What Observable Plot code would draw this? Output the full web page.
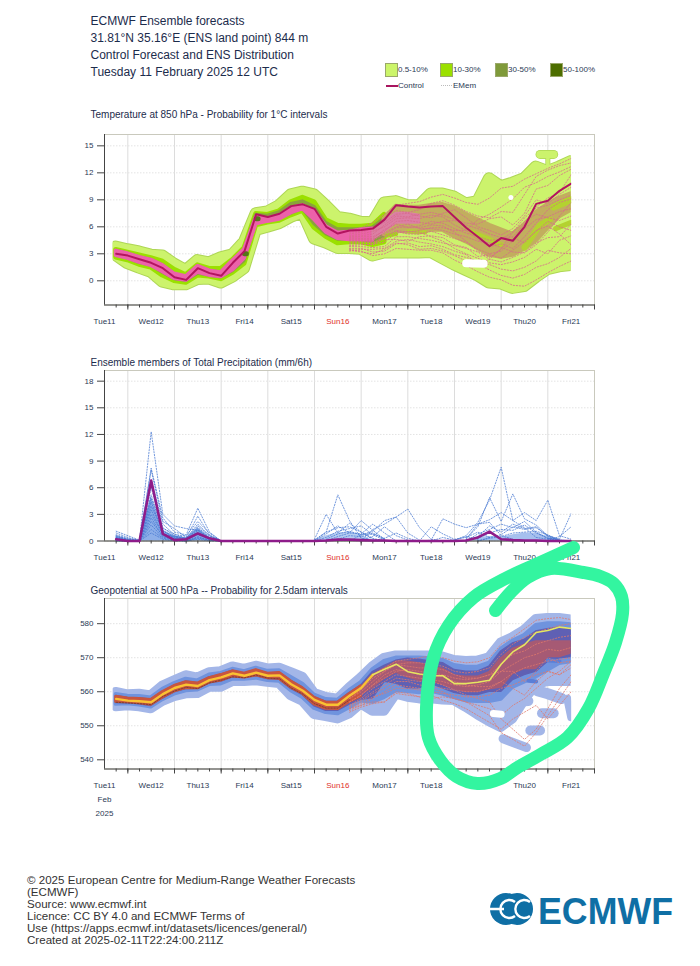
<!DOCTYPE html>
<html><head><meta charset="utf-8">
<script src="https://cdn.jsdelivr.net/npm/d3@7"></script>
<script src="https://cdn.jsdelivr.net/npm/@observablehq/plot@0.6"></script>
<style>
html,body{margin:0;padding:0;background:#fff}
#page{position:relative;width:700px;height:966px;overflow:hidden;font-family:"Liberation Sans",Arial,sans-serif;color:#1c2c4c}
#page>*{position:absolute}
.h{font-size:12px;left:90.5px;white-space:nowrap;line-height:14px}
.pt{font-size:10px;left:90.5px;white-space:nowrap;line-height:12px}
.lg{font-size:8px;white-space:nowrap;line-height:10px;color:#2b3a55}
.sw{width:11px;height:12px;border:1px solid #9aa86a}
.ft{font-size:11.57px;left:27px;white-space:nowrap;line-height:12px;color:#333}
</style></head><body><div id="page"></div>
<script>
const dayLabels=["Tue11","Wed12","Thu13","Fri14","Sat15","Sun16","Mon17","Tue18","Wed19","Thu20","Fri21"];
const titleLines=["ECMWF Ensemble forecasts","31.81°N 35.16°E (ENS land point) 844 m","Control Forecast and ENS Distribution","Tuesday 11 February 2025 12 UTC"];
const panelTitles=["Temperature at 850 hPa - Probability for 1°C intervals","Ensemble members of Total Precipitation (mm/6h)","Geopotential at 500 hPa -- Probability for 2.5dam intervals"];
const legendItems=["0.5-10%","10-30%","30-50%","50-100%"];
const footerLines=["© 2025 European Centre for Medium-Range Weather Forecasts","(ECMWF)","Source: www.ecmwf.int","Licence: CC BY 4.0 and ECMWF Terms of","Use (https://apps.ecmwf.int/datasets/licences/general/)","Created at 2025-02-11T22:24:00.211Z"];

// Temperature at 850 hPa (6-hourly from Tue 18 UTC)
const tControl=[3.0,2.8,2.4,2.0,1.4,0.4,0.1,1.4,0.85,0.55,2.0,3.3,7.4,7.1,7.45,8.3,8.5,8.0,6.0,5.25,5.6,5.65,5.8,6.8,8.4,8.25,8.15,8.25,8.3,7.1,5.9,4.9,3.85,4.75,4.45,6.0,8.55,8.9,10.0,10.8];
const tOuterHi=[4.3,4.0,3.75,3.4,3.3,2.4,1.7,2.8,2.55,3.1,3.45,4.85,8.0,8.2,8.9,10.1,10.4,10.1,8.9,7.6,7.4,7.05,7.0,9.2,9.35,8.9,8.9,10.2,10.2,9.85,9.1,9.35,11.9,11.0,11.4,11.9,13.2,12.7,13.2,13.8];
const tOuterLo=[2.25,1.35,0.85,0.4,-0.7,-1,-1,-0.4,-0.35,-0.8,-0.15,0.8,5.05,5.4,5.8,6.5,7,4.1,3.65,3.05,3.05,2.95,2.2,2.55,2.55,2.55,2.55,2.6,1.9,1.2,0.6,0,-0.8,-0.9,-1.4,-1.2,-0.2,0.7,1.0,1.15];
const tMidHi=[3.7,3.4,3.1,2.8,2.4,1.5,0.9,2.0,1.6,1.6,2.6,3.9,7.7,7.6,8.0,9.0,9.5,9.0,7.0,6.4,6.3,6.3,6.4,7.6];
const tMidLo=[2.3,2.0,1.5,1.2,0.3,-0.3,-0.5,0.3,0.2,-0.1,0.6,1.6,5.9,6.2,6.4,7.0,7.5,5.6,4.6,3.9,4.0,4.0,3.7,4.0];
const tOliveHi=[3.5,3.2,2.8,2.5,1.9,0.9,0.6,1.8,1.3,1.1,2.3,3.7,7.5,7.4,7.8,8.7,9.0,8.4,6.6,5.9,5.9,5.9,6.1,7.1];
const tOliveLo=[2.6,2.3,1.8,1.5,0.7,0,-0.2,0.6,0.4,0.2,0.9,2.0,6.2,6.5,6.7,7.3,7.8,6.1,5.0,4.4,4.4,4.4,4.2,4.8];
const tTanHi=[7.1,8.5,8.4,8.4,8.6,8.7,8.3,7.6,7.0,6.4,5.9,5.4,6.4,7.8,8.7,9.4,9.9];
const tTanLo=[4.9,5.3,5.2,5.1,5.4,5.4,4.7,4.1,3.4,2.6,2.4,2.6,3.3,4.2,5.6,6.9,7.6];
const tPinkHi=[3.3,3.0,2.6,2.3,1.7,0.75,0.45,1.6,1.1,0.9,2.2,3.45,7.0,6.9,7.2,8.05,8.35,7.7,6.0,5.3,5.4,5.65,5.75];
const tPinkLo=[2.8,2.5,2.05,1.7,1.0,0.25,0.05,0.95,0.6,0.45,1.2,2.5,6.3,6.6,6.85,7.55,8,6.8,5.4,4.7,4.55,4.55,4.5];
const tPatchHi=[5.75,6.7,7.6,7.6,7.4];
const tPatchLo=[4.5,5.3,6.3,6.3,6.3];
const tMembers=[
[5.6,5.9,6.5,7.4,8.4,8.6,8.8,9.3,9.6,9.2,8.7,8.5,9.2,10.3,10.5,11.3,11.9,12.5,13.0,13.6],
[5.2,5.4,5.8,7.0,7.8,7.6,7.9,8.6,8.9,8.4,7.7,7.2,7.0,7.7,7.6,9.6,11.6,12.3,12.8,13.1],
[4.9,5.0,5.2,6.2,7.2,7.1,7.4,7.6,7.3,6.8,6.4,6.3,6.9,7.1,6.2,7.5,10.2,10.6,11.7,12.4],
[4.8,4.9,4.9,5.5,6.6,6.7,6.5,6.3,6.6,6.7,6.2,5.8,5.2,4.8,4.9,6.3,8.2,9.2,9.8,11.8],
[4.4,4.4,4.5,5.3,6.0,6.3,5.8,5.8,5.6,5.2,4.9,4.4,4.2,3.7,3.2,3.1,4.0,5.4,7.2,8.7],
[4.1,4.1,4.0,4.8,5.5,5.2,5.2,5.5,5.1,4.7,4.3,3.5,3.0,3.3,4.4,5.8,6.8,7.1,7.7,8.0],
[3.8,3.8,3.7,3.8,4.9,4.9,4.7,4.5,4.2,3.9,3.6,3.2,2.4,2.1,2.6,3.2,4.2,4.8,4.9,6.3],
[3.6,3.6,3.2,3.3,4.1,4.2,3.8,3.9,3.5,2.9,2.6,2.2,1.8,1.3,1.1,1.5,2.2,3.4,3.1,3.0],
[3.5,3.3,2.8,3.0,3.6,3.5,3.4,3.4,3.1,2.3,1.7,1.0,0.4,0.1,-0.5,-0.6,0.1,0.9,1.6,2.2],
[4.6,4.7,4.6,5.1,5.9,6.0,5.9,6.2,6.1,5.4,4.4,3.3,2.6,3.5,4.8,4.2,5.6,6.1,5.2,4.0],
[5.4,5.5,5.9,6.5,7.4,7.5,7.2,7.0,7.5,7.9,7.0,6.0,5.6,5.1,5.8,7.2,9.0,8.6,9.6,10.4],
[4.2,4.3,4.3,4.6,4.6,4.4,4.9,5.0,4.8,4.0,3.7,2.7,2.9,2.5,3.4,4.4,5.5,6.6,6.0,5.6],
[5.0,5.2,5.5,6.0,6.9,7.0,6.9,7.3,7.1,6.2,5.6,4.6,3.8,4.1,3.6,4.9,6.4,7.9,8.7,9.1],
[3.9,4.0,4.1,4.3,5.3,5.5,5.4,4.9,4.4,3.6,3.0,2.5,2.0,1.8,2.1,2.6,3.5,3.0,4.5,5.0],
[4.7,4.6,4.7,5.7,6.3,5.9,6.1,6.6,6.4,5.8,5.3,4.9,4.5,4.6,5.4,6.6,7.4,7.0,6.7,7.2],
[3.3,3.5,3.5,3.6,4.4,4.6,4.3,4.1,3.8,3.3,2.9,1.9,1.2,0.6,0.3,0.7,1.5,1.9,2.6,3.6],
[4.5,4.4,4.2,4.9,5.6,5.4,5.6,5.9,5.9,5.6,5.6,6.8,7.4,8.2,9.1,10.4,10.9,11.6,12.1,12.7],
[3.4,3.2,3.0,3.5,4.2,4.0,3.5,3.6,3.3,2.8,2.2,1.8,2.4,3.6,5.4,7.0,8.1,8.4,9.0,9.5]];

// Total precipitation
const pControl=[0.2,0,0,6.8,0.8,0.1,0.2,0.85,0.3,0,0,0,0,0,0,0,0,0,0.05,0.15,0.15,0.1,0.05,0.05,0,0,0,0,0,0,0.05,0.4,1.05,0.2,0.1,0.05,0.05,0,0,0];
const pEarly=[
[1.1,0.6,0.1,12.3,3.0,1.7,1.4,1.2,0.3,0],[0.9,0.4,0,8.2,2.6,1.0,0.7,3.7,1.0,0],[0.7,0.3,0.1,8.0,2.2,1.4,0.4,2.8,0.7,0],
[0.6,0.2,0,6.9,1.9,0.7,0.6,2.2,0.9,0],[0.5,0.2,0,6.0,1.4,0.8,0.3,1.9,0.6,0],[0.4,0.1,0,5.2,1.1,0.5,0.4,1.7,0.6,0],
[0.4,0.1,0.1,4.8,1.5,0.6,0.2,1.5,0.5,0],[0.3,0.1,0,4.4,0.9,0.4,0.3,1.3,0.4,0],[0.3,0,0,3.9,1.2,0.3,0.1,1.2,0.3,0],
[0.2,0,0,3.5,0.7,0.5,0.2,1.0,0.3,0],[0.2,0,0,3.0,0.8,0.2,0.1,0.9,0.2,0],[0.1,0,0,2.6,0.5,0.3,0.1,0.7,0.2,0],
[0.1,0,0,2.2,0.6,0.1,0,0.5,0.1,0],[0.1,0,0,1.8,0.4,0.2,0,0.4,0.1,0],[0,0,0,1.3,0.3,0.1,0,0.3,0.1,0],[0,0,0,0.9,0.2,0,0,0.2,0,0]];
const pDenseEarly=[0.6,0.2,0,5.0,1.2,0.6,0.3,1.5,0.4,0];
const pDenseMid=[0.1,0.6,0.9,1.0,0.7,0.05];
const pDenseLate=[0.1,0.4,0.5,0.4,0.7,0.9,0.9,0.5,0.15,0];
const pLate=[
[17,0.1,1.0,5.2,2.3,0.3,0],[17,0.2,3.0,0.9,2.0,1.0,0.2,0],[17,0,0.8,1.7,0.9,2.3,1.2,0.2],[17,0.1,1.0,1.5,1.6,1.0,0.3,0],
[17,0,0.4,1.1,1.4,1.7,0.7,0.1],[18,0.2,0.8,1.1,0.7,0.9,0.2],[18,0,0.5,0.9,0.8,1.9,0.9,0],[19,0.2,0.6,0.5,0.8,0.3],
[20,0,0.7,1.1,2.3,2.7,3.6,1.5,0.2,0],[21,0,1.3,1.9,2.7,0.9,0.1],[21,0.1,0.5,1.6,0.6,0.1],[22,0,0.3,0.9,0.3,0],
[26,0,0.1,2.5,1.9,1.5,1.9,2.1,0.6,0.2],[26,0,1.6,0.8,0.2,0.4,1.0,0.4],[27,0,0.4,0.1,0.5,0.2],
[29,0.1,0.6,2.1,4.6,8.3,2.3,1.5,0.4,0.2,0],[30,0.3,1.6,4.9,2.2,5.3,2.5,1.8,0.6,0.1],[30,0.2,1.9,2.4,3.2,2.3,3.2,2.3,4.6,0.6,0.2],
[37,0.3,0.2,3.1],[37,0.1,0.5,1.6],[30,0,0.8,1.3,1.9,1.5,2.2,1.0,0.3,0.1,0],[30,0,0.5,1.7,1.0,1.9,1.4,1.6,0.5,0],
[31,0.3,0.9,1.3,1.2,1.8,0.9,0.3,0],[31,0,0.4,0.7,1.6,1.3,1.5,0.6,0.2],[31,0,0.3,0.5,0.9,1.0,1.1,0.7,0.1]];

// Geopotential at 500 hPa
const zControl=[557.9,557.4,557.2,556.9,559.3,561.1,562.1,561.7,563.4,564.2,565.4,564.7,565.6,564.7,564.8,562.2,560.3,557.6,556.2,556.2,558.8,561.1,565,566.6,568.1,565.9,565.2,564.7,564.7,562.4,562.4,562.8,563.4,568.1,571.7,573.8,577.4,578,579,578.6];
const zOuterHi=[560.8,560.1,560.3,559.8,562.7,564.2,565.7,565,566.6,566.9,568.3,567.6,568.5,567.7,567.9,566.6,565.2,560.5,559.3,558.8,562.1,565,568.3,570.8,571.5,571.5,571.5,571.5,571.2,570.2,569.9,570,571,575.3,576.9,579,582.2,582.5,582.5,582.1];
const zOuterLo=[554.6,554.9,554.6,554,556.2,557.6,558.4,558.5,560.3,560.3,562,562,562.2,561.8,561.4,557.8,556.2,552.3,551.7,551,552.5,555.4,553.3,553.3,558.3,557.4,556.9,556.9,556.6,556.4,554.4,552.2,550.2,548.5,551,556.5,561,562,562,562];
const zMidHi=[559.5,559.0,558.9,558.5,561,562.7,564,563.5,565.2,565.7,566.9,566.2,567.2,566.3,566.5,564.5,562.5,559.3,558,557.8,560.6,563,566.8,569.2,570.2,570.2,570.2,570,569.5,568,567.5,567.5,568.7,572.8,575.2,576.8,579.8,580.3,580.3,580];
const zMidLo=[556,556.2,555.8,555.2,557.4,559,560,560.2,561.8,562,563.4,563.4,563.7,563,562.8,560,558,554.8,553.6,553.2,555,557,556.6,558,560,559.8,559.4,559.8,559,558,557,556.8,556.8,557.5,561,562.5,564,566,568,568.5];
const zDarkHi=[559,558.4,558.3,557.9,560.2,562,563.2,562.7,564.4,565.2,566.4,565.6,566.6,565.6,565.8,563.4,561.4,558.6,557.2,557.2,559.8,562,566,567.8,569.3,569.9,569.6,569,568.6,566.6,566.1,566.1,567.6,572,574.4,575.4,577.9,578.6,579,578.6];
const zDarkLo=[556.5,556.4,556.1,555.6,557.8,559.6,560.6,560.7,562.3,562.8,564,564,564.3,563.5,563.3,560.6,558.8,555.5,554.2,554.2,556,557.4,557.9,562.7,562.2,560.8,560.8,562.2,560.8,559.5,558.8,558.8,559.8,559.8,563.2,564.7,565.7,568.6,569.6,570];
const zRedHi=[558.5,558,557.9,557.6,559.9,561.7,562.8,562.4,564,564.9,566,565.3,566.3,565.3,565.5,563,561,558.2,556.8,556.8,559.3,561.6];
const zRedLo=[557,556.9,556.6,556.2,558.3,560.1,561.1,561,562.7,563.3,564.5,564.2,564.8,564,563.8,561.2,559.4,556.3,555,554.9,557,558.6];
const zMauveHi=[561.4,565.2,567,569,569,568.5,567.5,567,565,564.6,564.6,566,570,572.8,574,575,575,575,575];
const zMauveLo=[558.8,561,563.6,565.4,564,563,563,561.8,560.5,559.8,559.8,560.5,561,565,566.5,566.5,570,570,571];
const zDarkMember=[556.9,556.7,556.5,556.2,558.6,560.2,561.3,560.9,562.6,563.4,564.4,564.1,564.9,564,563.8,561.1,559.3,556.5,555.2,555.2,557.6];
const zMembers=[
[559,561.5,565,567,569,569.5,570,570.5,570,569,568.5,568.8,570,574,576,578.5,581,581.5,581.8,581.2],
[558,560.5,564,566,568,568.5,568.5,568,567.5,566,565.5,566,567,571,574,576,577.5,578.5,579.5,580],
[557,559,562,564,566,566.5,566,565.5,565,564,563.5,564,565,568,571,572,574,575,576,576.5],
[556,558,561,563,565,564.5,564,563.5,563,562,561.5,562,563,566,568,570,571,572.5,572,573],
[555.5,557,559.5,561,563,563,562,561.5,561,560.5,560,560,561,563,565.5,567,568,569,569.5,570],
[555,556.5,558.5,559.5,561,561,560.5,560,559.5,559,558.5,558.5,559,561,562,563.5,565,566,565,567],
[554,555.5,556.5,557,559.5,559,558.5,558,558.5,558,557,556,555,553,556,558,561,564,566,569],
[554.5,556,557,557,560,559.5,558.5,559,557.5,556.5,555,553,551,549,552,554,556,552,556,560],
[555,556,558,560,562,561.5,561,561,560,558,557,555,553,548,546,544,548,553,558,563],
[556,557.5,560,562,564,563.5,563,563,562,560.5,559,558,557,552,549,546,549,555,561,565],
[557,559,562,565,566.5,566,565,565,564.5,563,562,561.5,561.5,563,561,559,563,566,565,568],
[558,560,563,566,568,567.5,567,567,566.5,565,564,564,565,566,566,563,566,570,568.5,569]];

// Hand-drawn annotation loop over the picture (page pixels)
const loopX=[573,540,505,473,448,433,426,428,440,456,477,500,517,540,567,588,603,615,622,621,613,600,583,550,527,510,495];
const loopY=[547,562,578,597,625,657,707,737,760,776,783,778,767,754,737,708,673,642,613,596,583,576,572,568,577,592,610];

const page=document.getElementById("page");
function add(html){const d=document.createElement("div");d.innerHTML=html;const e=d.firstChild;page.appendChild(e);return e;}
titleLines.forEach((s,i)=>add(`<div class="h" style="top:${14+17*i}px">${s}</div>`));
[108.5,356.5,584.5].forEach((y,i)=>add(`<div class="pt" style="top:${y}px">${panelTitles[i]}</div>`));
const swatchColors=["#ccf56a","#9be000","#7f9a3a","#4d6e00"];
legendItems.forEach((s,i)=>{const x=385+55*i;
 add(`<div class="sw" style="left:${x}px;top:63px;background:${swatchColors[i]}"></div>`);
 add(`<div class="lg" style="left:${x+13}px;top:65px">${s}</div>`);});
add(`<div style="left:385.5px;top:84.5px;width:12px;height:2px;background:#a8155f"></div>`);
add(`<div class="lg" style="left:398px;top:81px">Control</div>`);
add(`<div style="left:441px;top:85px;width:11px;height:0;border-top:1px dotted #bbb"></div>`);
add(`<div class="lg" style="left:453px;top:81px">EMem</div>`);
footerLines.forEach((s,i)=>add(`<div class="ft" style="top:${874+12*i}px">${s}</div>`));

const t=i=>new Date(Date.UTC(2025,1,11,18+6*i));
const t0=new Date(Date.UTC(2025,1,11,12)),t1=new Date(Date.UTC(2025,1,22,0));
const allIdx=d3.range(0,42),majorIdx=allIdx.filter(i=>(i-1)%4===0);
const band=(start,lo,hi,color,w,pad)=>Plot.areaY(lo,{x:(d,i)=>t(start+i),y1:(d,i)=>lo[i]+pad,y2:(d,i)=>hi[i]-pad,fill:color,stroke:color,strokeWidth:w,strokeLinejoin:"round"});
const blob=(is,vs,color,w)=>Plot.line(is,{x:d=>t(d),y:(d,k)=>vs[k],stroke:color,strokeWidth:w,strokeLinecap:"round",strokeLinejoin:"round"});
const series=(start,vals,color,w,dash,op)=>Plot.line(vals,{x:(d,i)=>t(start+i),y:d=>d,stroke:color,strokeWidth:w,strokeDasharray:dash,strokeOpacity:op==null?1:op,strokeLinejoin:"round"});

function panel(top,height,bottomPad,domain,yTicks,marks,extraLabels){
  const mt=8;
  const p=Plot.plot({width:700,height,marginLeft:104,marginRight:106,marginTop:mt,marginBottom:bottomPad,
    style:{fontFamily:"Liberation Sans",fontSize:"8px",background:"transparent",color:"#2b3a55"},
    x:{type:"utc",domain:[t0,t1]},y:{domain},
    marks:[
      Plot.gridX(majorIdx.map(t),{stroke:"#dcdcdc",strokeOpacity:1}),
      Plot.gridY(yTicks,{stroke:"#e3e3e3",strokeOpacity:1,strokeDasharray:"1.5,1.5"}),
      Plot.frame({stroke:"#c9c9bd"}),
      ...marks,
      Plot.ruleX([t0],{stroke:"#444",strokeWidth:1}),
      Plot.ruleY([domain[0]],{stroke:"#444",strokeWidth:1}),
      Plot.axisY(yTicks,{anchor:"left",tickSize:7,tickPadding:4,label:null,stroke:"#444",fill:"#2b3a55",fontSize:8}),
      Plot.axisX(allIdx.map(t),{anchor:"bottom",tickSize:3,label:null,stroke:"#444",fill:"none"}),
      Plot.axisX(majorIdx.map(t),{anchor:"bottom",tickSize:5,label:null,stroke:"#444",fill:"none"}),
      Plot.text(dayLabels,{x:(d,i)=>new Date(Date.UTC(2025,1,11+i,12)),y:domain[0],dy:16.5,text:d=>d,fontSize:8,fill:d=>d==="Sun16"?"#e0302a":"#2b3a55"}),
      ...(extraLabels||[])
    ]});
  p.style.left="0px";p.style.top=top+"px";p.style.overflow="visible";
  page.appendChild(p);
  const xs=p.scale("x");
  const id="c"+top;
  const cp=d3.select(p).append("clipPath").attr("id",id);
  cp.append("rect").attr("x",xs.apply(t(0))-3).attr("y",0).attr("width",xs.apply(t(39))-xs.apply(t(0))+3).attr("height",height);
  p.querySelectorAll('g[aria-label="area"],g[aria-label="line"]').forEach(g=>g.setAttribute("clip-path",`url(#${id})`));
  return p;
}

const GL="#ccf36c",GB="#aed655",LIME="#b4d230",TAN="#c2ae5e";
panel(126,210,31.5,[-2.69,16.26],[0,3,6,9,12,15],[
  band(0,tOuterLo,tOuterHi,GB,12,0.55),
  blob([36.4,37.6],[14.05,14.05],GB,9),
  blob([37,37],[14,12.7],GB,5),
  band(0,tOuterLo,tOuterHi,GL,10,0.55),
  blob([36.4,37.6],[14.05,14.05],GL,7.5),
  blob([37,37],[14,12.7],GL,3.5),
  band(0,tMidLo,tMidHi,"#9be000",5,0.28),
  band(0,tOliveLo,tOliveHi,"#8aa23c",3,0.17),
  band(23,tTanLo,tTanHi,TAN,5,0.28),
  band(0,tPinkLo,tPinkHi,"#ec62aa",4,0),
  band(22,tPatchLo,tPatchHi,"#dc7fa4",2,0.1),
  blob([23.3,24],[5.0,5.2],"#a5d81a",4),
  blob([25,26.5],[5.5,5.4],LIME,4),
  blob([30.5,32,33],[5.4,4.6,4.0],LIME,5),
  blob([35,36.4,37.2],[3.7,6.2,6.8],LIME,6),
  blob([37.5,39],[8.2,9.0],LIME,7),
  blob([37.8,39],[5.8,6.5],LIME,5),
  blob([11,11.3],[3.0,3.0],"#56741a",5),
  blob([12,12.3],[6.9,6.9],"#56741a",5),
  ...tMembers.map(m=>series(20,m,"#d86a8c",0.8,"1.2,1.8")),
  blob([30.1,31.5],[1.95,1.9],"#fff",8),
  blob([33.9,33.95],[9.25,9.25],"#fff",5),
  series(0,tControl,"#b3145f",2)
]);

const B="#4677d2";
panel(362,210,31.5,[0,19.2],[0,3,6,9,12,15,18],[
  Plot.areaY(pDenseEarly,{x:(d,i)=>t(i),y:d=>d,fill:"#5c8de0",fillOpacity:0.7}),
  Plot.areaY(pDenseMid,{x:(d,i)=>t(17+i),y:d=>d,fill:"#5c8de0",fillOpacity:0.45}),
  Plot.areaY(pDenseLate,{x:(d,i)=>t(30+i),y:d=>d,fill:"#5c8de0",fillOpacity:0.55}),
  ...pEarly.map(m=>series(0,m,B,0.75,"1.2,1.6")),
  ...pLate.map(m=>series(m[0],m.slice(1),B,0.75,"1.2,1.6"))
],[series(0,pControl,"#8e1c8a",2.6)]);

const BL="#a3b6e8";
panel(590,236,57.5,[537.3,587.4],[540,550,560,570,580],[
  band(0,zOuterLo,zOuterHi,BL,10,1.0),
  blob([33.2,35.2],[546.2,543.6],BL,9),
  blob([35.6,36.4],[548.6,548.6],BL,10),
  blob([36.6,37.6],[553.7,553.7],BL,10),
  blob([36.2,37,38.2],[560.2,559.4,558],BL,11),
  blob([38.8,39],[558,552.5],BL,8),
  blob([34.2,35.4],[557,557.3],BL,10),
  band(0,zMidLo,zMidHi,"#6f93de",4,0.3),
  band(0,zDarkLo,zDarkHi,"#5f60b4",2,0.29),
  band(0,zRedLo,zRedHi,"#c8553f",3,0),
  band(21,zMauveLo,zMauveHi,"#a65a74",2,0.29),
  blob([35.4,36],[563.2,563],"#5a7fd8",4),
  blob([37,38],[569.2,569],"#5a7fd8",4),
  ...zMembers.map(m=>series(20,m,"#e0786c",0.8,"1.2,1.8")),
  blob([32.4,33.1],[553.6,553.4],"#fff",7),
  series(0,zDarkMember,"#222",0.8,"1.5,1.5",0.55),
  series(0,zControl.slice(0,23),"#f9c232",2.4),
  series(22,zControl.slice(22),"#e6e660",1.6)
],[
  Plot.text(["Feb"],{x:[t0],y:[537.3],dy:30.5,text:d=>d,fontSize:8,fill:"#2b3a55"}),
  Plot.text(["2025"],{x:[t0],y:[537.3],dy:44.5,text:d=>d,fontSize:8,fill:"#2b3a55"})
]);

// logo
add(`<svg width="200" height="50" style="left:480px;top:885px"><circle cx="26" cy="24" r="16" fill="#0f6fa5"/><circle cx="37" cy="24" r="16" fill="#0f6fa5"/><path d="M35,17 A9,9 0 1 0 35,31 M50,17 A9,9 0 1 0 50,31 M10,24 H24" fill="none" stroke="#fff" stroke-width="2.4"/><text x="58" y="39" font-family="Liberation Sans" font-weight="700" font-size="37" fill="#0f6fa5" textLength="135" lengthAdjust="spacingAndGlyphs">ECMWF</text></svg>`);

// annotation overlay
const ov=Plot.plot({width:700,height:966,margin:0,x:{domain:[0,700],range:[0,700]},y:{domain:[0,966],range:[0,966]},axis:null,style:{background:"transparent"},
  marks:[Plot.line(loopX,{x:d=>d,y:(d,i)=>loopY[i],stroke:"#33f5a0",strokeWidth:13,strokeLinecap:"round",strokeLinejoin:"round",curve:"catmull-rom"})]});
ov.style.left="0";ov.style.top="0";ov.style.pointerEvents="none";
page.appendChild(ov);
</script></body></html>
